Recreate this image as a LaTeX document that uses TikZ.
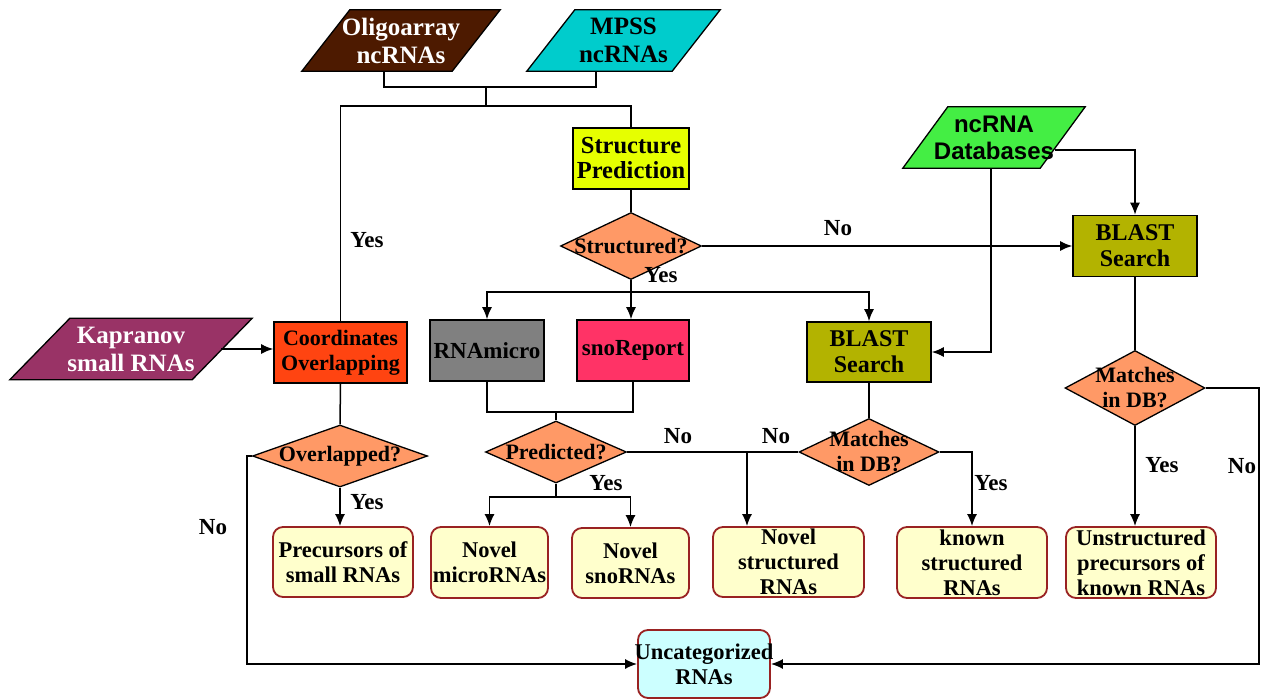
\documentclass[tikz,border=0pt]{standalone}
\usepackage{fontspec}
\setmainfont{Liberation Serif}
\newfontfamily\arialf{Liberation Sans}
\usetikzlibrary{shapes.geometric,arrows.meta,backgrounds}
\definecolor{cOlig}{HTML}{4D1A00}
\definecolor{cMpss}{HTML}{00CCCC}
\definecolor{cKap}{HTML}{993366}
\definecolor{cDb}{HTML}{44EE44}
\definecolor{cSp}{HTML}{E6FF00}
\definecolor{cCoord}{HTML}{FF4411}
\definecolor{cGray}{HTML}{808080}
\definecolor{cSno}{HTML}{FF3366}
\definecolor{cBlast}{HTML}{B3B300}
\definecolor{cDia}{HTML}{FF9966}
\definecolor{cRes}{HTML}{FFFFCC}
\definecolor{cResB}{HTML}{992222}
\definecolor{cUnc}{HTML}{CCFFFF}
\begin{document}
\begin{tikzpicture}[x=1pt,y=-1pt,
 box/.style={draw=black, line width=1.6pt, inner sep=0pt, align=center, font=\fontsize{23}{25}\selectfont\bfseries},
 para/.style={inner sep=0pt, align=center, font=\fontsize{25}{28}\selectfont\bfseries},
 dia/.style={diamond, draw=black, line width=1.3pt, fill=cDia, inner sep=0pt},
 dtxt/.style={align=center, font=\fontsize{22}{25}\selectfont\bfseries},
 rtxt/.style={align=center, font=\fontsize{22.5}{25}\selectfont\bfseries},
 res/.style={draw=cResB, line width=1.8pt, rounded corners=10pt, fill=cRes, inner sep=0pt},
 lbl/.style={font=\fontsize{23}{25}\selectfont\bfseries},
 conn/.style={line width=1.5pt},
 arr/.style={conn, -{Latex[length=12pt,width=10pt]}}
]
\useasboundingbox (0,0) rectangle (1261,699);

% parallelogram inputs
\node[para, text=white, minimum width=198pt, minimum height=61pt] (olig) at (401,40.5) {Oligoarray\\ncRNAs};
\node[para, minimum width=193pt, minimum height=61pt] (mpss) at (623.5,40.5) {MPSS\\ncRNAs};
\node[para, text=white, minimum width=242pt, minimum height=61pt] (kap) at (131,349) {Kapranov\\small RNAs};
\node[para, font=\arialf\fontsize{24}{27}\selectfont\bfseries, minimum width=182pt, minimum height=61pt] (ncdb) at (994,137.5) {ncRNA\\Databases};

% process boxes
\node[box, fill=cSp, font=\fontsize{24.5}{25}\selectfont\bfseries, minimum width=116pt, minimum height=61pt] (sp) at (631,158.5) {Structure\\Prediction};
\node[box, fill=cCoord, font=\fontsize{22}{25}\selectfont\bfseries, minimum width=133pt, minimum height=61pt] (coord) at (340.5,352.5) {Coordinates\\Overlapping};
\node[box, fill=cGray, minimum width=114pt, minimum height=61pt] (rnam) at (487,350.5) {RNAmicro};
\node[box, fill=cSno, minimum width=112pt, minimum height=61pt] (snor) at (633,350.5) {snoReport};
\node[box, fill=cBlast, font=\fontsize{24}{26}\selectfont\bfseries, minimum width=124pt, minimum height=60pt] (blast1) at (869,352) {BLAST\\Search};
\node[box, fill=cBlast, font=\fontsize{24}{26}\selectfont\bfseries, minimum width=124pt, minimum height=61pt] (blast2) at (1135,246) {BLAST\\Search};

% decisions
\node[dia, minimum width=141pt, minimum height=67pt, label={[dtxt]center:Structured?}] (structd) at (631,246) {};
\node[dia, minimum width=175pt, minimum height=62pt, label={[dtxt]center:Overlapped?}] (overl) at (340,456) {};
\node[dia, minimum width=141pt, minimum height=62pt, label={[dtxt]center:Predicted?}] (pred) at (556,452) {};
\node[dia, minimum width=140pt, minimum height=67pt, label={[dtxt]center:{Matches\\in DB?}}] (match1) at (869,452) {};
\node[dia, minimum width=140pt, minimum height=75pt, label={[dtxt]center:{Matches\\in DB?}}] (match2) at (1135,388) {};

% results
\node[res, minimum width=140pt, minimum height=70pt, label={[rtxt]center:{Precursors of\\small RNAs}}] (prec) at (343,562) {};
\node[res, minimum width=117pt, minimum height=71pt, label={[rtxt]center:{Novel\\microRNAs}}] (nmic) at (489.5,562.5) {};
\node[res, minimum width=117pt, minimum height=70pt, label={[rtxt]center:{Novel\\snoRNAs}}] (nsno) at (630.5,563) {};
\node[res, minimum width=151pt, minimum height=70pt, label={[rtxt]center:{Novel\\structured\\RNAs}}] (nstr) at (788.5,562) {};
\node[res, minimum width=150pt, minimum height=71pt, label={[rtxt]center:{known\\structured\\RNAs}}] (kstr) at (972,562.5) {};
\node[res, minimum width=150pt, minimum height=71pt, label={[rtxt]center:{Unstructured\\precursors of\\known RNAs}}] (unstr) at (1141,562.5) {};
\node[res, fill=cUnc, minimum width=132pt, minimum height=68pt, label={[rtxt]center:{Uncategorized\\RNAs}}] (uncat) at (704,664) {};

% labels
\node[lbl] (lno1) at (838,228) {No};
\node[lbl] (lyes1) at (661,275) {Yes};
\node[lbl] (lyes2) at (367,240) {Yes};
\node[lbl] (lyes3) at (367,502) {Yes};
\node[lbl] (lno2) at (213,527) {No};
\node[lbl] (lyes4) at (606,483) {Yes};
\node[lbl] (lno3) at (678,436) {No};
\node[lbl] (lno4) at (776,436) {No};
\node[lbl] (lyes5) at (991,483) {Yes};
\node[lbl] (lyes6) at (1162,465) {Yes};
\node[lbl] (lno5) at (1242,466) {No};

% junction points
\coordinate (j1) at (486,87);
\coordinate (j2) at (486,106);
\coordinate (b1) at (631,292);
\coordinate (m1) at (556,412);
\coordinate (m2) at (556,497);
\coordinate (bn) at (747,452);
\coordinate (rr) at (1259,388);
\coordinate (ll) at (247,456);

% connectors
\draw[conn] ([xshift=-17pt]olig.south) |- (j1) -| ([xshift=-27.5pt]mpss.south);
\draw[conn] (j1) -- (j2);
\draw[conn] (coord.north) |- (j2) -| (sp.north);
\draw[conn] (sp.south) -- (structd.north);
\draw[arr] (structd.east) -- (blast2.west);
\draw[conn] (structd.south) -- (b1);
\draw[arr] (b1) -| (rnam.north);
\draw[arr] (b1) -- (b1 |- snor.north);
\draw[arr] (b1) -| (blast1.north);
\draw[arr] ([xshift=-30pt,yshift=-12.5pt]ncdb.east) -| (blast2.north);
\draw[arr] ([xshift=-3pt]ncdb.south) |- (blast1.east);
\draw[conn] (blast2.south) -- (match2.north);
\draw[arr] (match2.south) -- (match2.south |- unstr.north);
\draw[arr] (match2.east) -- (rr) |- (uncat.east);
\draw[conn] (blast1.south) -- (match1.north);
\draw[arr] (match1.east) -| (kstr.north);
\draw[conn] (pred.east) -- (match1.west);
\draw[arr] (bn) -- (bn |- nstr.north);
\draw[conn] (rnam.south) |- (m1) -| (snor.south);
\draw[conn] (m1) -- (pred.north);
\draw[conn] (pred.south) -- (m2);
\draw[arr] (m2) -| (nmic.north);
\draw[arr] (m2) -| (nsno.north);
\draw[conn] (coord.south) -- (overl.north);
\draw[arr] (overl.south) -- (overl.south |- prec.north);
\draw[arr] (overl.west) -- (ll) |- (uncat.west);
\draw[arr] ([xshift=-31pt]kap.east) -- (kap.east -| coord.west);

% backgrounds: page and parallelogram shapes
\begin{scope}[on background layer]
\fill[white] (0,0) rectangle (1261,699);
\filldraw[fill=cOlig, line width=1.3pt] ([xshift=48pt]olig.north west) -- (olig.north east) -- ([xshift=-48pt]olig.south east) -- (olig.south west) -- cycle;
\filldraw[fill=cMpss, line width=1.3pt] ([xshift=48pt]mpss.north west) -- (mpss.north east) -- ([xshift=-48pt]mpss.south east) -- (mpss.south west) -- cycle;
\filldraw[fill=cKap, line width=1.3pt] ([xshift=60pt]kap.north west) -- (kap.north east) -- ([xshift=-60pt]kap.south east) -- (kap.south west) -- cycle;
\filldraw[fill=cDb, line width=1.3pt] ([xshift=45pt]ncdb.north west) -- (ncdb.north east) -- ([xshift=-45pt]ncdb.south east) -- (ncdb.south west) -- cycle;
\end{scope}
\end{tikzpicture}
\end{document}
